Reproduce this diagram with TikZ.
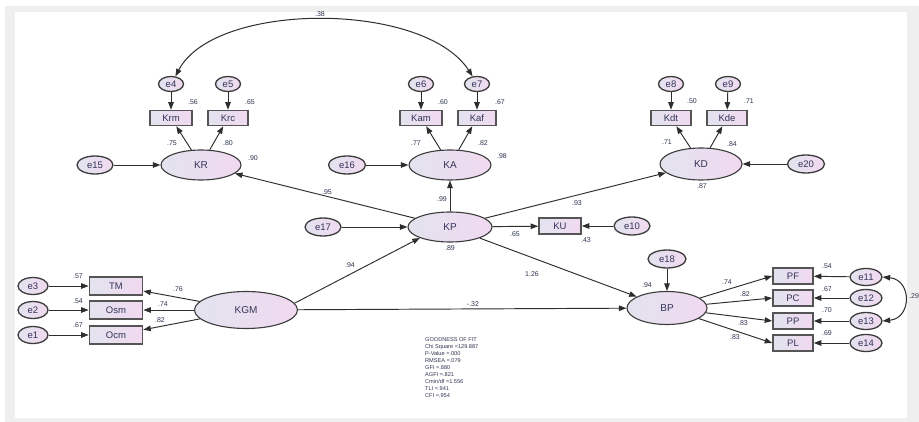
\documentclass[tikz,border=0pt]{standalone}
\usepackage{fontspec}
\setmainfont{Liberation Sans}
\usetikzlibrary{shapes.geometric,arrows.meta}
\definecolor{panelgray}{HTML}{EFEFEF}
\definecolor{latl}{HTML}{E2E3EE}
\definecolor{latr}{HTML}{F1D9F0}
\definecolor{edgec}{HTML}{3C3C3C}
\definecolor{boxc}{HTML}{555555}
\definecolor{linec}{HTML}{2E2E2E}
\definecolor{txtc}{HTML}{34345A}
\definecolor{numc}{HTML}{2E3550}
\begin{document}
\begin{tikzpicture}[x=1pt,y=-1pt,
  lat/.style={ellipse, draw=edgec, line width=1.1pt, left color=latl, right color=latr,
    inner sep=0pt, text=txtc, font=\fontsize{10}{11}\selectfont},
  err/.style={ellipse, draw=edgec, line width=1.3pt, left color=latl, right color=latr,
    inner sep=0pt, text=txtc, font=\fontsize{9.5}{10}\selectfont},
  obs/.style={rectangle, draw=boxc, line width=1.6pt, left color=latl, right color=latr,
    inner sep=0pt, text=txtc, font=\fontsize{9.5}{10}\selectfont},
  arr/.style={draw=linec, line width=0.95pt, -{Triangle[length=7.5pt,width=5.5pt]}},
  darr/.style={draw=linec, line width=1pt, {Triangle[length=7.5pt,width=5.5pt]}-{Triangle[length=7.5pt,width=5.5pt]}},
  lbl/.style={inner sep=0pt, text=numc, font=\fontsize{7}{7}\selectfont}
]
\useasboundingbox (0,0) rectangle (919,422);
\fill[white] (0,0) rectangle (919,422);
\fill[panelgray] (5,6) rectangle (919,422);
\fill[white] (15,12) rectangle (907,418);

% error terms top
\node[err, minimum width=25pt, minimum height=15pt] (e4) at (171,84) {e4};
\node[err, minimum width=25pt, minimum height=15pt] (e5) at (228,84) {e5};
\node[err, minimum width=25pt, minimum height=15pt] (e6) at (421,84) {e6};
\node[err, minimum width=25pt, minimum height=15pt] (e7) at (477,84) {e7};
\node[err, minimum width=25pt, minimum height=15pt] (e8) at (671,84) {e8};
\node[err, minimum width=25pt, minimum height=15pt] (e9) at (728,84) {e9};
% indicators top
\node[obs, minimum width=42pt, minimum height=15pt] (Krm) at (171,118) {Krm};
\node[obs, minimum width=40pt, minimum height=15pt] (Krc) at (228,118) {Krc};
\node[obs, minimum width=42pt, minimum height=15pt] (Kam) at (421,118) {Kam};
\node[obs, minimum width=38pt, minimum height=15pt] (Kaf) at (477,118) {Kaf};
\node[obs, minimum width=40pt, minimum height=15pt] (Kdt) at (671,118) {Kdt};
\node[obs, minimum width=40pt, minimum height=15pt] (Kde) at (727,118) {Kde};
% latents top
\node[lat, minimum width=80pt, minimum height=30pt] (KR) at (201,165) {KR};
\node[lat, minimum width=82pt, minimum height=30pt] (KA) at (450,165) {KA};
\node[lat, minimum width=82pt, minimum height=32pt] (KD) at (701,164) {KD};
\node[err, minimum width=36pt, minimum height=18pt] (e15) at (95,165) {e15};
\node[err, minimum width=37pt, minimum height=18pt] (e16) at (347,165) {e16};
\node[err, minimum width=37pt, minimum height=18pt] (e20) at (806,164) {e20};
% middle
\node[lat, minimum width=84pt, minimum height=30pt] (KP) at (450,227) {KP};
\node[err, minimum width=36pt, minimum height=18pt] (e17) at (323,227) {e17};
\node[obs, minimum width=42pt, minimum height=16pt] (KU) at (560,226) {KU};
\node[err, minimum width=36pt, minimum height=18pt] (e10) at (632,226) {e10};
% KGM block
\node[lat, minimum width=103pt, minimum height=37pt] (KGM) at (246,310) {KGM};
\node[obs, minimum width=53pt, minimum height=18pt] (TM) at (116,286) {TM};
\node[obs, minimum width=53pt, minimum height=18pt] (Osm) at (116,310) {Osm};
\node[obs, minimum width=53pt, minimum height=18pt] (Ocm) at (116,335) {Ocm};
\node[err, minimum width=30pt, minimum height=17pt] (e3) at (33,286) {e3};
\node[err, minimum width=30pt, minimum height=17pt] (e2) at (33,310) {e2};
\node[err, minimum width=30pt, minimum height=17pt] (e1) at (33,335) {e1};
% BP block
\node[lat, minimum width=80pt, minimum height=33pt] (BP) at (667,308) {BP};
\node[err, minimum width=38pt, minimum height=18pt] (e18) at (667,259) {e18};
\node[obs, minimum width=40pt, minimum height=16pt] (PF) at (793,276) {PF};
\node[obs, minimum width=40pt, minimum height=16pt] (PC) at (793,298) {PC};
\node[obs, minimum width=40pt, minimum height=16pt] (PP) at (793,321) {PP};
\node[obs, minimum width=40pt, minimum height=16pt] (PL) at (793,343) {PL};
\node[err, minimum width=32pt, minimum height=17pt] (e11) at (866,277) {e11};
\node[err, minimum width=32pt, minimum height=17pt] (e12) at (866,298) {e12};
\node[err, minimum width=32pt, minimum height=17pt] (e13) at (866,321) {e13};
\node[err, minimum width=32pt, minimum height=17pt] (e14) at (866,343) {e14};

% arrows: errors to indicators
\foreach \a/\b in {e4/Krm,e5/Krc,e6/Kam,e7/Kaf,e8/Kdt,e9/Kde,e15/KR,e16/KA,e20/KD,e17/KP,e10/KU,e3/TM,e2/Osm,e1/Ocm,e18/BP,e11/PF,e12/PC,e13/PP,e14/PL}
  \draw[arr] (\a) -- (\b);
% loadings
\foreach \a/\b in {KR/Krm,KR/Krc,KA/Kam,KA/Kaf,KD/Kdt,KD/Kde,KGM/TM,KGM/Osm,KGM/Ocm}
  \draw[arr] (\a) -- (\b);
\draw[arr] (KP) -- (KU);
\draw[arr] (BP) -- (PF.west);
\draw[arr] (BP) -- (PC.west);
\draw[arr] (BP) -- (PP.west);
\draw[arr] (BP) -- (PL.west);
% structural
\draw[arr] (KP) -- (KR);
\draw[arr] (KP) -- (KA);
\draw[arr] (KP) -- (KD);
\draw[arr] (KP) -- (BP);
\draw[arr] (KGM.8) -- (KP.200);
\draw[arr] (KGM) -- (BP);
% covariances
\draw[darr] (e4.60) .. controls (215,1) and (424,1) .. (e7.120);
\draw[darr] (e11.east) .. controls (912,280) and (912,318) .. (e13.east);

% labels
\node[lbl] (l38) at (320,14) {.38};
\node[lbl] (l56) at (193,102) {.56};
\node[lbl] (l65a) at (250,102) {.65};
\node[lbl] (l60) at (443,102) {.60};
\node[lbl] (l67a) at (500,102) {.67};
\node[lbl] (l50) at (692,101) {.50};
\node[lbl] (l71a) at (749,101) {.71};
\node[lbl] (l75) at (172,143) {.75};
\node[lbl] (l80) at (228,143) {.80};
\node[lbl] (l77) at (416,143) {.77};
\node[lbl] (l82a) at (483,143) {.82};
\node[lbl] (l71b) at (667,142) {.71};
\node[lbl] (l84) at (732,144) {.84};
\node[lbl] (l90) at (253,158) {.90};
\node[lbl] (l98) at (502,156) {.98};
\node[lbl] (l87) at (702,186) {.87};
\node[lbl] (l95) at (327,192) {.95};
\node[lbl] (l99) at (442,199) {.99};
\node[lbl] (l93) at (577,203) {.93};
\node[lbl] (l89) at (450,248) {.89};
\node[lbl] (l65b) at (515,234) {.65};
\node[lbl] (l43) at (586,240) {.43};
\node[lbl] (l94a) at (350,265) {.94};
\node[lbl] (l126) at (532,274) {1.26};
\node[lbl] (l32) at (473,304) {-.32};
\node[lbl] (l94b) at (647,285) {.94};
\node[lbl] (l57) at (78,276) {.57};
\node[lbl] (l54a) at (78,301) {.54};
\node[lbl] (l67b) at (78,325) {.67};
\node[lbl] (l76) at (178,289) {.76};
\node[lbl] (l74a) at (163,304) {.74};
\node[lbl] (l82b) at (160,320) {.82};
\node[lbl] (l54b) at (827,266) {.54};
\node[lbl] (l67c) at (827,289) {.67};
\node[lbl] (l70) at (827,310) {.70};
\node[lbl] (l69) at (827,333) {.69};
\node[lbl] (l74b) at (727,282) {.74};
\node[lbl] (l82c) at (745,294) {.82};
\node[lbl] (l83a) at (743,323) {.83};
\node[lbl] (l83b) at (735,337) {.83};
\node[lbl, anchor=west] (l29) at (909,296) {.29};

% goodness of fit
\node[anchor=north west, inner sep=0pt, align=left, text=numc,
  font=\fontsize{5.6}{7.1}\selectfont] (gof) at (425,337) {GOODNESS OF FIT\\
Chi Square =129.887\\
P-Value =.000\\
RMSEA =.079\\
GFI =.880\\
AGFI =.821\\
Cmin/df =1.556\\
TLI =.941\\
CFI =.954};
\end{tikzpicture}
\end{document}
